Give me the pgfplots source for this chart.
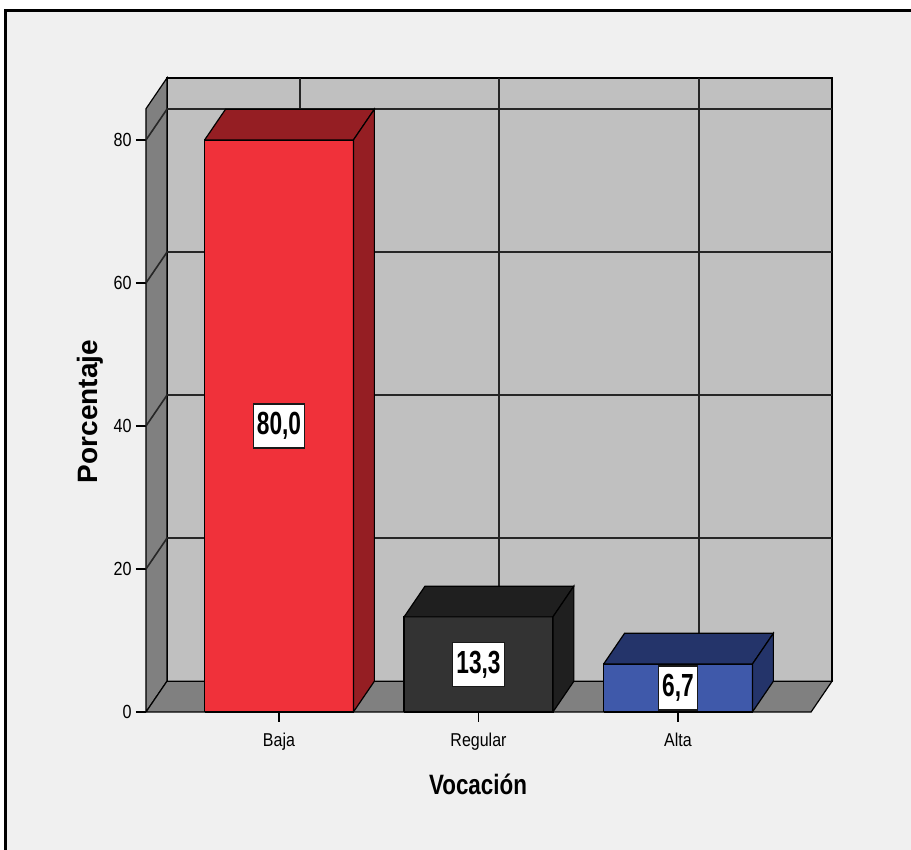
\documentclass[border=0pt]{standalone}
\usepackage{pgfplots}
\pgfplotsset{compat=1.18}
\usepackage{fontspec}
\setmainfont{Liberation Sans}
\definecolor{bgc}{HTML}{F0F0F0}
\definecolor{wallback}{HTML}{C0C0C0}
\definecolor{wallside}{HTML}{808080}
\definecolor{redf}{HTML}{F0313A}
\definecolor{redd}{HTML}{951E23}
\definecolor{blkf}{HTML}{333333}
\definecolor{blkd}{HTML}{1F1F1F}
\definecolor{bluef}{HTML}{3F59AA}
\definecolor{blued}{HTML}{24346A}
\begin{document}
\begin{tikzpicture}
\path[use as bounding box] (-73pt,-69pt) rectangle (382.5pt,356pt);
\fill[white] (-73pt,-69pt) rectangle (382.5pt,356pt);
\fill[bgc] (-70pt,-69pt) rectangle (382.5pt,350.5pt);
\draw[line width=1.5pt] (-70pt,-69pt) -- (-70pt,350.5pt) -- (382.5pt,350.5pt);
\begin{axis}[
  at={(0,0)}, anchor=south west,
  scale only axis, width=343pt, height=317pt,
  xmin=-0.6667, xmax=2.772, ymin=0, ymax=88.67,
  axis x line*=bottom, axis y line*=left,
  axis line style={draw=none,-},
  clip=false,
  xtick={0,1,2}, xticklabels={Baja,Regular,Alta},
  ytick={0,20,40,60,80}, yticklabels={0,20,40,60,80},
  tick align=outside, major tick length=5pt,
  tick style={black, line width=0.6pt},
  xticklabel style={font=\fontsize{9.3}{10}\selectfont, xscale=0.86, yshift=-2pt},
  yticklabel style={font=\fontsize{9.5}{10}\selectfont, xscale=0.85, xshift=1pt},
  xlabel={Vocación}, ylabel={Porcentaje},
  xlabel style={at={(axis description cs:0.484,-0.1136)}, anchor=center, font=\fontsize{14}{14}\selectfont\bfseries, xscale=0.8},
  ylabel style={at={(axis description cs:-0.0816,0.474)}, anchor=center, font=\fontsize{14}{14}\selectfont\bfseries},
]
% back wall
\addplot[fill=wallback, draw=black, line width=0.6pt] coordinates {(-0.5617,4.3) (2.772,4.3) (2.772,88.67) (-0.5617,88.67) (-0.5617,4.3)};
% left wall
\addplot[fill=wallside, draw=black, line width=0.6pt] coordinates {(-0.6667,0) (-0.5617,4.3) (-0.5617,88.67) (-0.6667,84.37) (-0.6667,0)};
% floor
\addplot[fill=wallside, draw=black, line width=0.6pt] coordinates {(-0.6667,0) (2.667,0) (2.772,4.3) (-0.5617,4.3) (-0.6667,0)};
% grid lines on back wall
\addplot[black!85, line width=0.9pt] coordinates {(-0.5617,24.3) (2.772,24.3)};
\addplot[black!85, line width=0.9pt] coordinates {(-0.5617,44.3) (2.772,44.3)};
\addplot[black!85, line width=0.9pt] coordinates {(-0.5617,64.3) (2.772,64.3)};
\addplot[black!85, line width=0.9pt] coordinates {(-0.5617,84.3) (2.772,84.3)};
% grid lines on left wall
\addplot[black!85, line width=0.8pt] coordinates {(-0.6667,20) (-0.5617,24.3)};
\addplot[black!85, line width=0.8pt] coordinates {(-0.6667,40) (-0.5617,44.3)};
\addplot[black!85, line width=0.8pt] coordinates {(-0.6667,60) (-0.5617,64.3)};
\addplot[black!85, line width=0.8pt] coordinates {(-0.6667,80) (-0.5617,84.3)};
% vertical grid lines
\addplot[black!85, line width=1pt] coordinates {(0.105,4.3) (0.105,88.67)};
\addplot[black!85, line width=1pt] coordinates {(1.105,4.3) (1.105,88.67)};
\addplot[black!85, line width=1pt] coordinates {(2.105,4.3) (2.105,88.67)};
% Baja
\addplot[fill=redf, draw=black, line width=0.6pt] coordinates {(-0.373,0) (0.373,0) (0.373,80) (-0.373,80) (-0.373,0)};
\addplot[fill=redd, draw=black, line width=0.6pt] coordinates {(-0.373,80) (0.373,80) (0.478,84.3) (-0.268,84.3) (-0.373,80)};
\addplot[fill=redd, draw=black, line width=0.6pt] coordinates {(0.373,0) (0.478,4.3) (0.478,84.3) (0.373,80) (0.373,0)};
% Regular
\addplot[fill=blkf, draw=black, line width=0.6pt] coordinates {(0.627,0) (1.373,0) (1.373,13.3) (0.627,13.3) (0.627,0)};
\addplot[fill=blkd, draw=black, line width=0.6pt] coordinates {(0.627,13.3) (1.373,13.3) (1.478,17.6) (0.732,17.6) (0.627,13.3)};
\addplot[fill=blkd, draw=black, line width=0.6pt] coordinates {(1.373,0) (1.478,4.3) (1.478,17.6) (1.373,13.3) (1.373,0)};
% Alta
\addplot[fill=bluef, draw=black, line width=0.6pt] coordinates {(1.627,0) (2.373,0) (2.373,6.7) (1.627,6.7) (1.627,0)};
\addplot[fill=blued, draw=black, line width=0.6pt] coordinates {(1.627,6.7) (2.373,6.7) (2.478,11) (1.732,11) (1.627,6.7)};
\addplot[fill=blued, draw=black, line width=0.6pt] coordinates {(2.373,0) (2.478,4.3) (2.478,11) (2.373,6.7) (2.373,0)};
% value labels
\addplot[draw=none, point meta=explicit symbolic,
  nodes near coords={\scalebox{0.71}[1]{\pgfplotspointmeta}},
  every node near coord/.append style={anchor=center, fill=white, draw=black!90, line width=0.7pt, inner xsep=1.8pt, inner ysep=0pt, minimum height=22pt, font=\fontsize{16}{16}\selectfont\bfseries}]
  table[meta=lab] {
x y lab
0 40 80,0
1 6.65 13,3
2 3.35 6,7
};
\end{axis}
\end{tikzpicture}
\end{document}
